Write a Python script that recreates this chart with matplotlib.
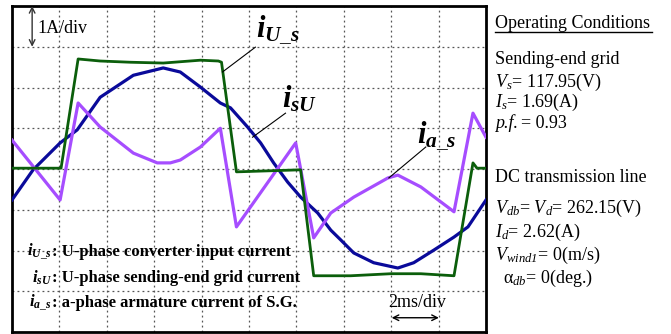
import numpy as np
import matplotlib
matplotlib.use('Agg')
import matplotlib.pyplot as plt
from matplotlib.lines import Line2D

plt.rcParams['font.family'] = ['Liberation Serif', 'DejaVu Serif']
plt.rcParams['mathtext.fontset'] = 'custom'
plt.rcParams['mathtext.rm'] = 'Liberation Serif'
plt.rcParams['mathtext.it'] = 'Liberation Serif:italic:bold'
plt.rcParams['mathtext.bf'] = 'Liberation Serif:bold'
plt.rcParams['mathtext.sf'] = 'Liberation Serif:italic'

# 波形数据 (时间 ms, 电流 A)
t_iUs = [0, 2.07, 2.79, 3.72, 4.99, 6.38, 7.95, 8.71, 8.84, 9.47, 12.18, 12.73,
         14.29, 15.98, 17.25, 18.65, 19.45, 19.62, 20.0]
i_iUs = [0.02, 0.02, 2.70, 2.65, 2.62, 2.60, 2.67, 2.65, 2.62, -0.07, -0.02, -2.62,
         -2.62, -2.57, -2.57, -2.62, 0.15, 0.02, 0.02]

t_isU = [0, 0.89, 2.03, 2.75, 3.72, 5.12, 6.38, 7.10, 7.95, 8.79, 9.22, 9.94,
         10.49, 11.04, 11.63, 12.18, 12.90, 13.45, 13.87, 14.42, 15.26, 16.28,
         16.95, 17.80, 18.65, 19.24, 20.0]
i_isU = [-0.76, -0.02, 0.64, 0.96, 1.76, 2.30, 2.48, 2.38, 2.01, 1.62, 1.50, 1.03,
         0.64, 0.15, -0.32, -0.69, -1.08, -1.50, -1.74, -2.06, -2.30, -2.43,
         -2.30, -1.99, -1.67, -1.42, -0.76]

t_ias = [0, 2.03, 2.79, 3.72, 5.12, 6.13, 6.68, 7.10, 7.95, 8.79, 9.47, 11.97,
         12.73, 13.45, 14.42, 15.86, 16.28, 17.25, 18.65, 19.45, 20.0]
i_ias = [0.71, -0.76, 1.62, 1.03, 0.39, 0.15, 0.15, 0.22, 0.54, 1.00, -1.42, 0.64,
         -1.69, -1.08, -0.69, -0.22, -0.15, -0.44, -1.05, 1.37, 0.78]

W, H = 671, 334
fig = plt.figure(figsize=(W / 100, H / 100), dpi=100)
ax = fig.add_axes([12 / W, 2 / H, 474 / W, 326 / H])

ax.plot(t_isU, i_isU, color='#0a0a9a', lw=2.3, zorder=3)
ax.plot(t_ias, i_ias, color='#a64dff', lw=2.3, zorder=4)
ax.plot(t_iUs, i_iUs, color='#0b5e0b', lw=2.0, zorder=5)

ax.set_xlim(0, 20)
ax.set_ylim(-4, 4)
ax.set_xticks(np.arange(2, 20, 2))
ax.set_yticks(np.arange(-3, 4, 1))
ax.tick_params(length=0, labelbottom=False, labelleft=False)
ax.grid(True, color='#555555', lw=0.9, linestyle=(0, (1.5, 2.5)))
for s in ax.spines.values():
    s.set_linewidth(2)

# 标尺
ax.annotate('', xy=(0.85, 4.0), xytext=(0.85, 3.0),
            arrowprops=dict(arrowstyle='<->', color='#333333', lw=1.0, shrinkA=0, shrinkB=0))
ax.text(1.06, 3.46, '1A/div', fontsize=13, va='center', ha='left')
ax.annotate('', xy=(16.02, -3.65), xytext=(18.01, -3.65),
            arrowprops=dict(arrowstyle='<->', color='black', lw=1.0, shrinkA=0, shrinkB=0))
ax.text(15.86, -3.28, '2ms/div', fontsize=13, va='center', ha='left')

# 波形标注
lab_kw = dict(fontsize=22, va='baseline', ha='left')
ax.text(10.30, 3.24, r'$i_{U\_s}$', **lab_kw)
ax.plot([10.27, 8.88], [2.99, 2.38], color='black', lw=0.8, zorder=6)
ax.text(11.40, 1.50, r'$i_{sU}$', **lab_kw)
ax.plot([11.54, 10.15], [1.37, 0.78], color='black', lw=0.8, zorder=6)
ax.text(17.10, 0.66, r'$i_{a\_s}$', **lab_kw)
ax.plot([17.46, 15.90], [0.54, -0.22], color='black', lw=0.8, zorder=6)

# 图例说明
names = [r'$i_{U\_s}$', r'$i_{sU}$', r'$i_{a\_s}$']
descs = [': U-phase converter input current',
         ': U-phase sending-end grid current',
         ': a-phase armature current of S.G.']
rows = [-2.03, -2.67, -3.28]
for n, d, y in zip(names, descs, rows):
    ax.text(1.68, y, n, fontsize=12, ha='right', va='center')
    ax.text(1.70, y, d, fontsize=12, ha='left', va='center', fontweight='bold')

# 运行条件
def ftext(px, py, s, **kw):
    fig.text(px / W, 1 - py / H, s, va='center', ha='left', fontsize=13, **kw)

ftext(495, 23, 'Operating Conditions')
fig.add_artist(Line2D([495 / W, 652 / W], [1 - 32 / H, 1 - 32 / H], color='black', lw=1.0))
ftext(495, 60, 'Sending-end grid')
ftext(495, 82, r'$\mathsf{V}_{\mathsf{s}}$= 117.95(V)')
ftext(495, 102, r'$\mathsf{I}_{\mathsf{s}}$= 1.69(A)')
ftext(495, 123, 'p.f.', fontstyle='italic')
ftext(521, 123, '= 0.93')
ftext(495, 178, 'DC transmission line')
ftext(495, 208, r'$\mathsf{V}_{\mathsf{db}}$= $\mathsf{V}_{\mathsf{d}}$= 262.15(V)')
ftext(495, 232, r'$\mathsf{I}_{\mathsf{d}}$= 2.62(A)')
ftext(495, 255, r'$\mathsf{V}_{\mathsf{wind1}}$= 0(m/s)')
ftext(503, 278, r'α$_{\mathsf{db}}$= 0(deg.)')

fig.savefig('out.png', dpi=100)
